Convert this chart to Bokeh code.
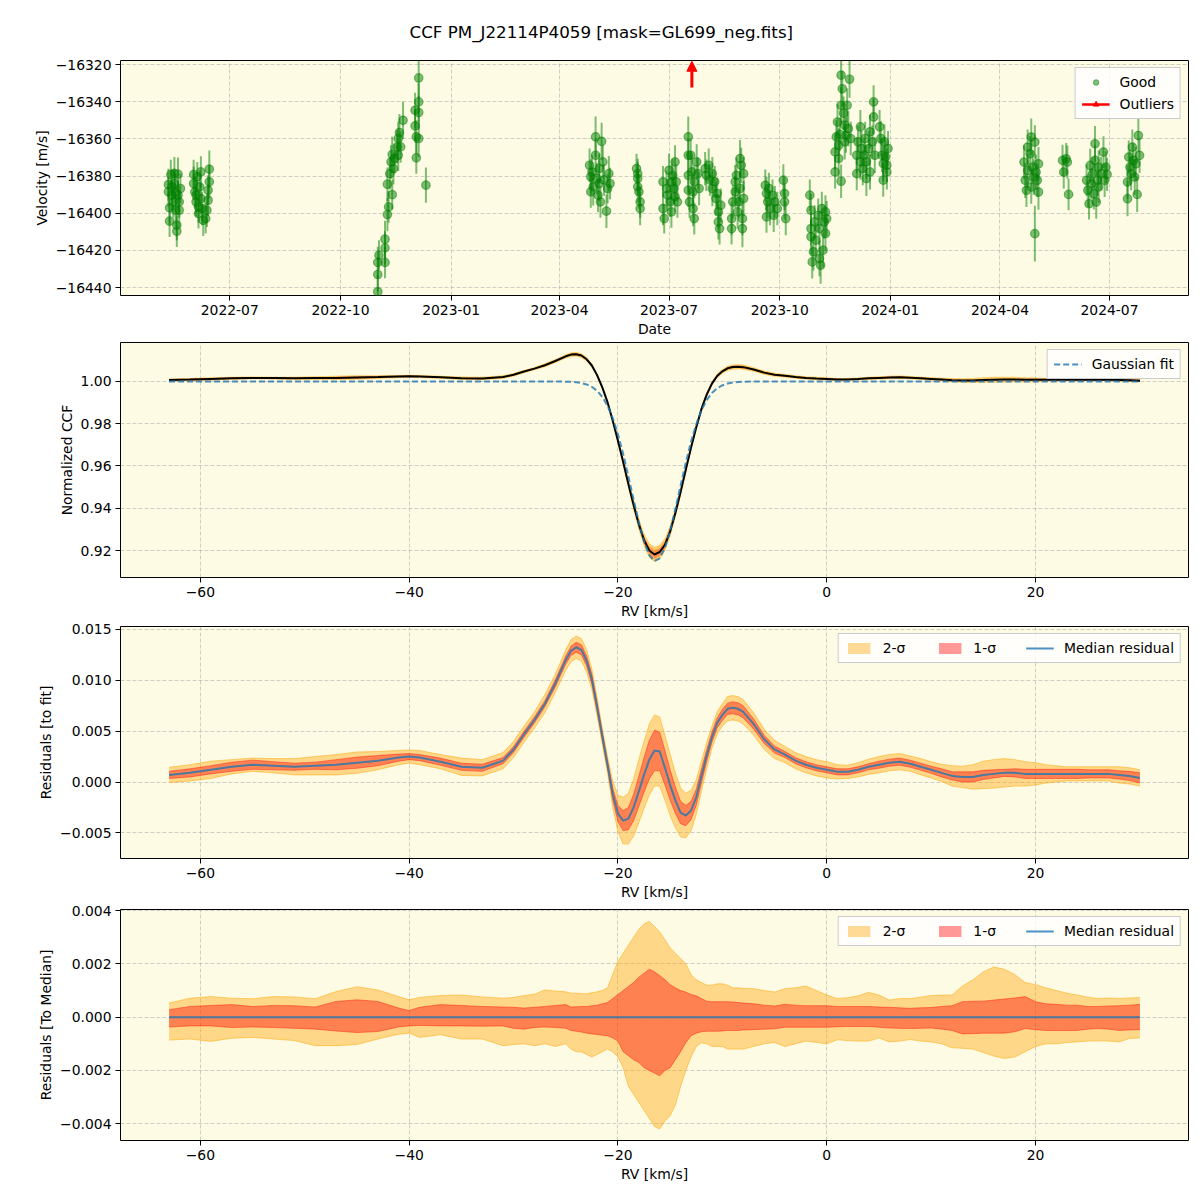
import numpy as np
import pandas as pd
from bokeh.plotting import figure
from bokeh.layouts import column
from bokeh.models import (Range1d, FixedTicker, DatetimeTickFormatter, CustomJSTickFormatter,
                          Legend, LegendItem, Arrow, NormalHead, ColumnDataSource)
from bokeh.embed import file_html
from bokeh.resources import INLINE

TITLE = "CCF PM_J22114P4059 [mask=GL699_neg.fits]"
date_ticks = ["2022-07", "2022-10", "2023-01", "2023-04", "2023-07", "2023-10", "2024-01", "2024-04", "2024-07"]
rv_ticks = [-60, -40, -20, 0, 20]

# ---------------- panel 1: RV time series ----------------
obs_date = [
    "2022-05-11", "2022-05-11", "2022-05-12", "2022-05-12", "2022-05-13", "2022-05-14", "2022-05-14", "2022-05-15", "2022-05-16", "2022-05-16",
    "2022-05-17", "2022-05-17", "2022-05-18", "2022-05-18", "2022-05-19", "2022-05-19", "2022-05-20", "2022-05-20", "2022-05-21",
    "2022-06-01", "2022-06-01", "2022-06-02", "2022-06-03", "2022-06-03", "2022-06-04", "2022-06-05", "2022-06-05", "2022-06-06", "2022-06-07",
    "2022-06-07", "2022-06-08", "2022-06-09", "2022-06-11", "2022-06-12", "2022-06-13", "2022-06-13", "2022-06-14", "2022-06-14",
    "2022-11-01", "2022-11-01", "2022-11-01", "2022-11-02", "2022-11-07", "2022-11-07", "2022-11-07", "2022-11-09", "2022-11-10", "2022-11-09",
    "2022-11-11", "2022-11-12", "2022-11-13", "2022-11-13", "2022-11-14", "2022-11-15", "2022-11-17", "2022-11-18", "2022-11-18", "2022-11-19",
    "2022-11-20", "2022-11-22",
    "2022-12-02", "2022-12-02", "2022-12-03", "2022-12-03", "2022-12-05", "2022-12-05", "2022-12-05", "2022-12-05", "2022-12-11",
    "2023-04-26", "2023-04-27", "2023-04-27", "2023-04-28", "2023-04-29", "2023-05-01", "2023-05-01", "2023-05-02", "2023-05-03", "2023-05-04",
    "2023-05-04", "2023-05-05", "2023-05-06", "2023-05-07", "2023-05-08", "2023-05-10", "2023-05-11", "2023-05-12", "2023-05-13",
    "2023-06-04", "2023-06-05", "2023-06-05", "2023-06-05", "2023-06-06", "2023-06-07", "2023-06-07",
    "2023-06-26", "2023-06-26", "2023-06-27", "2023-06-29", "2023-06-30", "2023-07-01", "2023-07-02", "2023-07-03", "2023-07-03", "2023-07-04",
    "2023-07-05", "2023-07-06", "2023-07-06", "2023-07-07", "2023-07-08",
    "2023-07-17", "2023-07-17", "2023-07-17", "2023-07-17", "2023-07-18", "2023-07-19", "2023-07-20", "2023-07-21", "2023-07-21", "2023-07-22",
    "2023-07-22", "2023-07-24", "2023-07-25", "2023-07-26",
    "2023-07-31", "2023-08-01", "2023-08-03", "2023-08-04", "2023-08-06", "2023-08-06", "2023-08-08", "2023-08-09", "2023-08-10", "2023-08-11",
    "2023-08-11", "2023-08-12", "2023-08-13",
    "2023-08-22", "2023-08-22", "2023-08-23", "2023-08-25", "2023-08-25", "2023-08-26", "2023-08-27", "2023-08-28", "2023-08-29", "2023-08-29",
    "2023-08-30", "2023-08-31", "2023-08-31", "2023-09-01", "2023-09-01",
    "2023-09-19", "2023-09-20", "2023-09-20", "2023-09-21", "2023-09-22", "2023-09-23", "2023-09-25", "2023-09-26", "2023-09-27", "2023-09-29",
    "2023-10-04", "2023-10-05", "2023-10-05", "2023-10-06",
    "2023-10-26", "2023-10-27", "2023-10-27", "2023-10-27", "2023-10-28", "2023-10-29", "2023-10-30", "2023-10-31", "2023-11-02", "2023-11-03",
    "2023-11-03", "2023-11-04", "2023-11-05", "2023-11-06", "2023-11-07", "2023-11-08", "2023-11-08", "2023-11-09",
    "2023-11-16", "2023-11-16", "2023-11-17", "2023-11-18", "2023-11-19", "2023-11-19", "2023-11-20", "2023-11-21", "2023-11-21", "2023-11-21",
    "2023-11-22", "2023-11-23", "2023-11-24", "2023-11-24", "2023-11-25", "2023-11-26", "2023-11-27", "2023-11-28", "2023-11-29",
    "2023-12-04", "2023-12-04", "2023-12-05", "2023-12-07", "2023-12-07", "2023-12-08", "2023-12-09", "2023-12-10", "2023-12-11", "2023-12-12",
    "2023-12-12", "2023-12-14", "2023-12-15", "2023-12-15", "2023-12-17", "2023-12-18", "2023-12-18", "2023-12-19",
    "2023-12-23", "2023-12-24", "2023-12-25", "2023-12-26", "2023-12-26", "2023-12-27", "2023-12-28", "2023-12-29", "2023-12-29", "2023-12-30",
    "2024-04-21", "2024-04-22", "2024-04-23", "2024-04-24", "2024-04-24", "2024-04-26", "2024-04-27", "2024-04-27", "2024-04-28", "2024-04-29",
    "2024-04-30", "2024-04-30", "2024-05-01", "2024-05-02", "2024-05-03", "2024-05-03",
    "2024-05-23", "2024-05-24", "2024-05-26", "2024-05-27", "2024-05-28",
    "2024-06-12", "2024-06-13", "2024-06-14", "2024-06-15", "2024-06-16", "2024-06-17", "2024-06-18", "2024-06-19", "2024-06-19", "2024-06-20",
    "2024-06-21", "2024-06-22", "2024-06-22", "2024-06-24", "2024-06-26", "2024-06-27", "2024-06-28", "2024-06-29",
    "2024-07-16", "2024-07-16", "2024-07-17", "2024-07-18", "2024-07-19", "2024-07-20", "2024-07-21", "2024-07-22", "2024-07-23", "2024-07-24",
    "2024-07-25", "2024-07-26",
]
obs_rv = [
    -16384.6, -16388.5, -16397.1, -16404.3, -16379.2, -16385.8, -16390.3, -16393.9, -16378.7, -16384.0,
    -16388.9, -16398.4, -16406.5, -16409.7, -16379.0, -16390.3, -16393.9, -16398.4, -16386.7,
    -16379.2, -16384.0, -16388.5, -16393.9, -16390.3, -16380.4, -16396.6, -16400.2, -16385.8, -16377.8,
    -16392.1, -16397.5, -16403.8, -16402.9, -16398.4, -16393.0, -16387.6, -16383.1, -16376.3,
    -16442.3, -16433.0, -16426.5, -16422.6, -16426.5, -16418.7, -16414.0, -16400.7, -16396.6, -16384.4,
    -16378.7, -16372.4, -16390.0, -16368.4, -16376.0, -16370.6, -16364.3, -16368.8, -16359.8, -16356.6,
    -16364.3, -16350.0,
    -16353.0, -16344.6, -16370.2, -16358.9, -16359.8, -16345.8, -16340.1, -16327.2, -16384.9,
    -16374.2, -16380.4, -16388.5, -16377.8, -16385.8, -16358.9, -16368.8, -16381.3, -16390.3, -16376.0,
    -16384.0, -16393.9, -16361.3, -16372.4, -16382.1, -16398.9, -16386.7, -16378.7, -16384.0,
    -16376.0, -16381.3, -16385.8, -16378.7, -16388.5, -16393.9, -16397.5,
    -16383.1, -16397.5, -16402.9, -16386.7, -16390.3, -16376.9, -16393.9, -16383.1, -16399.3, -16379.7,
    -16386.7, -16372.4, -16391.2, -16383.1, -16393.9,
    -16358.9, -16368.8, -16379.6, -16387.6, -16393.9, -16368.8, -16377.8, -16388.5, -16397.5, -16402.9,
    -16383.1, -16372.4, -16378.7, -16386.7,
    -16376.0, -16379.6, -16374.2, -16382.1, -16378.7, -16386.7, -16383.1, -16392.1, -16389.4, -16399.3,
    -16404.7, -16408.3, -16395.7,
    -16402.9, -16408.3, -16393.9, -16388.5, -16383.1, -16379.6, -16399.3, -16393.9, -16386.7, -16370.6,
    -16374.2, -16402.9, -16408.3, -16378.7, -16392.1,
    -16385.0, -16389.4, -16402.0, -16393.9, -16386.7, -16397.5, -16390.3, -16401.1, -16393.9, -16397.5,
    -16382.2, -16389.4, -16393.9, -16402.9,
    -16390.3, -16398.4, -16408.3, -16412.7, -16426.2, -16420.8, -16404.7, -16414.5, -16401.1, -16424.4,
    -16408.3, -16428.0, -16397.5, -16419.9, -16404.7, -16410.9, -16399.3, -16402.9,
    -16377.8, -16367.0, -16358.9, -16350.9, -16363.4, -16370.6, -16357.6, -16341.9, -16325.7, -16382.8,
    -16333.0, -16346.2, -16361.6, -16352.6, -16358.0, -16341.9, -16354.4, -16327.9, -16359.8,
    -16378.7, -16368.8, -16361.6, -16372.4, -16353.5, -16365.2, -16376.0, -16368.8, -16359.8, -16381.3,
    -16372.4, -16365.2, -16356.2, -16377.8, -16361.6, -16348.2, -16340.1, -16368.8,
    -16353.5, -16359.8, -16368.8, -16373.3, -16382.2, -16361.6, -16369.7, -16377.8, -16374.2, -16365.2,
    -16372.5, -16382.3, -16387.7, -16364.4, -16377.0, -16368.0, -16385.9, -16359.0, -16375.2, -16380.5,
    -16411.0, -16361.7, -16377.9, -16382.3, -16388.6, -16373.4,
    -16371.6, -16377.9, -16370.7, -16372.5, -16389.9,
    -16382.3, -16387.7, -16394.9, -16374.3, -16384.1, -16378.7, -16389.5, -16362.6, -16371.6, -16394.0,
    -16382.3, -16375.2, -16385.9, -16378.7, -16367.1, -16382.3, -16375.2, -16379.1,
    -16383.2, -16392.2, -16369.8, -16375.2, -16378.7, -16364.4, -16371.6, -16380.5, -16373.4, -16389.9,
    -16358.2, -16368.9,
]
obs_err = [
    8.5, 8.0, 9.0, 8.5, 8.0, 9.5, 8.0, 8.5, 9.0, 8.0, 10.0, 8.5, 8.0, 8.5, 9.0, 8.0, 8.5, 9.0, 8.0,
    8.0, 9.0, 8.5, 8.0, 9.5, 8.0, 8.5, 8.0, 9.0, 8.5, 8.0, 9.0, 8.5, 8.0, 9.0, 8.5, 8.0, 9.0, 10.0,
    9.0, 9.0, 8.5, 8.0, 8.5, 9.0, 10.0, 9.0, 8.5, 9.0, 8.5, 9.0, 8.0, 9.5, 8.5, 8.0, 9.0, 8.5, 9.0, 10.0,
    8.5, 10.0,
    9.0, 9.5, 8.5, 9.0, 10.0, 9.0, 10.0, 11.0, 9.5,
    9.0, 9.5, 8.5, 9.0, 10.0, 11.0, 9.0, 8.5, 9.0, 8.0, 9.5, 8.5, 10.0, 9.0, 8.5, 9.0, 8.0, 9.5, 8.5,
    8.0, 9.0, 8.5, 8.0, 9.0, 8.5, 9.0,
    8.5, 9.0, 8.0, 9.5, 8.5, 9.0, 8.0, 9.5, 8.5, 9.0, 8.5, 9.0, 8.0, 9.5, 8.5,
    11.0, 9.0, 9.5, 9.0, 8.5, 9.0, 8.5, 9.0, 9.5, 8.5, 9.0, 9.5, 8.5, 9.0,
    9.0, 8.5, 9.0, 8.5, 9.0, 9.5, 8.5, 9.0, 8.5, 9.0, 9.5, 8.5, 9.0,
    9.0, 8.5, 9.0, 8.5, 9.0, 9.5, 9.0, 8.5, 9.0, 10.0, 9.5, 9.0, 10.0, 9.0, 9.5,
    8.5, 9.0, 8.5, 9.0, 8.5, 9.0, 8.5, 9.0, 8.5, 9.0,
    8.5, 9.0, 9.5, 9.0,
    8.5, 9.0, 9.0, 9.5, 9.0, 10.0, 9.0, 9.5, 9.0, 9.5, 9.0, 10.0, 9.0, 9.5, 9.0, 9.5, 9.0, 9.5,
    9.0, 9.5, 9.0, 9.5, 9.0, 10.0, 9.0, 9.5, 10.0, 9.0, 9.5, 9.0, 9.5, 9.0, 9.5, 9.0, 9.5, 10.0, 9.0,
    9.0, 9.5, 9.0, 9.5, 9.0, 9.5, 9.0, 9.5, 9.0, 9.5, 9.0, 9.5, 9.0, 9.5, 9.0, 9.5, 9.0, 9.5,
    9.0, 9.5, 9.0, 9.5, 9.0, 9.5, 9.0, 9.5, 9.0, 9.5,
    9.0, 9.5, 9.0, 9.5, 9.0, 9.5, 9.0, 10.0, 9.0, 9.5, 15.0, 9.0, 9.5, 9.0, 9.5, 9.0,
    8.5, 9.0, 8.5, 9.0, 8.5,
    8.5, 9.0, 8.5, 9.0, 8.5, 9.0, 8.5, 9.5, 8.5, 9.0, 8.5, 9.0, 8.5, 9.0, 8.5, 9.0, 8.5, 9.0,
    9.0, 9.5, 9.0, 9.5, 9.0, 9.5, 9.0, 9.5, 9.0, 9.5, 9.0, 9.5,
]
outlier_date = ["2023-07-20"]

# ---------------- panels 2-4: CCF and residual profiles ----------------
rv = [-63, -61, -59, -57, -55, -53, -51, -49, -47, -45, -43, -41,
      -40, -39, -37, -35, -33, -31,
      -30, -29, -28, -27, -26, -25,
      -24.5, -24, -23.5, -23, -22.5, -22, -21.5, -21, -20.5, -20,
      -19.5, -19, -18.5, -18, -17.5, -17, -16.5, -16, -15.5, -15,
      -14.5, -14, -13.5, -13, -12.5, -12, -11.5, -11, -10.5, -10,
      -9.5, -9, -8.5, -8,
      -7, -6, -5, -4, -3, -2, -1, 0, 1, 2, 3, 4, 5, 6, 7, 8, 9, 10, 11, 12,
      13, 14, 15, 16, 17, 18, 19, 20, 21, 22, 23, 24, 25, 26, 27, 28, 29, 30]

gauss_fit = [1.0, 1.0, 1.0, 1.0, 1.0, 1.0, 1.0, 1.0, 1.0, 1.0, 1.0, 1.0,
             1.0, 1.0, 1.0, 1.0, 1.0, 1.0,
             1.0, 1.0, 1.0, 1.0, 1.0, 0.99992,
             0.99983, 0.99964, 0.99928, 0.99861, 0.99748, 0.99561, 0.99272, 0.9885, 0.98264, 0.9750,
             0.9657, 0.9551, 0.9440, 0.9333, 0.9242, 0.9178, 0.9150, 0.9163, 0.9213, 0.9294,
             0.9396, 0.9507, 0.9616, 0.9715, 0.9798, 0.9864, 0.9912, 0.9946, 0.99683, 0.9982,
             0.99906, 0.99952, 0.99977, 0.9999,
             0.99998, 1.0, 1.0, 1.0, 1.0, 1.0, 1.0, 1.0, 1.0, 1.0, 1.0, 1.0, 1.0, 1.0, 1.0, 1.0, 1.0, 1.0, 1.0, 1.0,
             1.0, 1.0, 1.0, 1.0, 1.0, 1.0, 1.0, 1.0, 1.0, 1.0, 1.0, 1.0, 1.0, 1.0, 1.0, 1.0, 1.0, 1.0]

res_med = [0.0007, 0.0009, 0.0012, 0.0015, 0.0017, 0.0016, 0.0015, 0.0016, 0.0017, 0.0019, 0.0021, 0.0024,
           0.0025, 0.0024, 0.0020, 0.0015, 0.0014, 0.0021,
           0.0032, 0.0047, 0.0061, 0.0077, 0.0097, 0.0120,
           0.0129, 0.01325, 0.0130, 0.0119, 0.0101, 0.0074, 0.0045, 0.0017, -0.0012, -0.0031,
           -0.0038, -0.0036, -0.0025, -0.0009, 0.0007, 0.0022, 0.0031, 0.0030, 0.0014, -0.0003,
           -0.0018, -0.0030, -0.0033, -0.0028, -0.0015, 0.0006, 0.0026, 0.0044, 0.0058, 0.0066,
           0.0072, 0.0073, 0.0072, 0.0069,
           0.0057, 0.0042, 0.0032, 0.0027, 0.0021, 0.0017, 0.0014, 0.0012, 0.0010, 0.0010, 0.0012, 0.0015,
           0.0017, 0.0019, 0.0020, 0.0018, 0.0015, 0.0012, 0.0009, 0.0006, 0.0005, 0.0005, 0.0007, 0.0008,
           0.0009, 0.0009, 0.0008, 0.0008, 0.0008, 0.0008, 0.0008, 0.0008, 0.0008, 0.0008, 0.0008, 0.0007,
           0.0006, 0.0004]

res_sig1 = [0.00035, 0.0004, 0.0004, 0.00045, 0.00045, 0.0004, 0.00035, 0.00035, 0.0005, 0.00055, 0.0005, 0.00035,
            0.0003, 0.0003, 0.00035, 0.00035, 0.00035, 0.0003,
            0.0003, 0.0003, 0.0003, 0.0003, 0.00035, 0.0004,
            0.00045, 0.0005, 0.0005, 0.0005, 0.0005, 0.00045, 0.0004, 0.0004, 0.0006, 0.0008,
            0.001, 0.0011, 0.0013, 0.0015, 0.0017, 0.0019, 0.002, 0.0019, 0.0017, 0.0015,
            0.0013, 0.0011, 0.001, 0.0009, 0.0008, 0.0007, 0.0006, 0.0005, 0.0005, 0.00055,
            0.00055, 0.0006, 0.0006, 0.0006,
            0.0005, 0.0004, 0.00035, 0.0003, 0.0003, 0.0003, 0.0003, 0.0003, 0.0003, 0.0003, 0.0003, 0.0003,
            0.00035, 0.00035, 0.00035, 0.00035, 0.00035, 0.00035, 0.0004, 0.0004, 0.0005, 0.0005, 0.00045, 0.0004,
            0.00035, 0.0004, 0.00045, 0.00045, 0.00045, 0.00045, 0.00045, 0.00045, 0.0004, 0.0004, 0.0004, 0.0004,
            0.00045, 0.0005]

res_sig2 = [0.00075, 0.0008, 0.00085, 0.0007, 0.00065, 0.0007, 0.0008, 0.0009, 0.001, 0.00105, 0.0009, 0.0007,
            0.00065, 0.0007, 0.0007, 0.00085, 0.0008, 0.0008,
            0.0008, 0.0008, 0.0008, 0.0009, 0.0009, 0.001,
            0.0011, 0.0011, 0.0011, 0.0011, 0.001, 0.0009, 0.0008, 0.0008, 0.0013, 0.0018,
            0.0023, 0.0025, 0.0028, 0.0031, 0.0033, 0.0035, 0.0035, 0.0034, 0.0032, 0.003,
            0.0027, 0.0024, 0.0022, 0.002, 0.0017, 0.0015, 0.0013, 0.0011, 0.0011, 0.0011,
            0.0012, 0.0012, 0.0012, 0.0012,
            0.0011, 0.001, 0.0009, 0.0008, 0.0008, 0.0008, 0.0008, 0.0008, 0.0007, 0.00065, 0.0007, 0.00075,
            0.0008, 0.0008, 0.0008, 0.00075, 0.0008, 0.0008, 0.00085, 0.001, 0.00105, 0.0012, 0.00135, 0.0014,
            0.0014, 0.0013, 0.0012, 0.0011, 0.0009, 0.0008, 0.0007, 0.0007, 0.0007, 0.0007, 0.0007, 0.0008,
            0.0008, 0.0008]

med_1hi = [0.00028, 0.0004, 0.00044, 0.00047, 0.0004, 0.00044, 0.00043, 0.00038, 0.00059, 0.00065, 0.00059, 0.00034,
           0.00025, 0.00037, 0.00047, 0.00044, 0.0004, 0.00038,
           0.00037, 0.00034, 0.00037, 0.0004, 0.00044, 0.00047,
           0.00038, 0.00039, 0.0004, 0.0004, 0.00043, 0.00045, 0.0005, 0.00055, 0.0007, 0.00085,
           0.001, 0.00115, 0.0013, 0.0015, 0.00165, 0.0018, 0.0017, 0.00156, 0.0014, 0.00122,
           0.0011, 0.001, 0.00094, 0.00085, 0.0008, 0.0007, 0.0006, 0.00058, 0.00058, 0.00058,
           0.00058, 0.00057, 0.00055, 0.00053,
           0.0005, 0.00045, 0.00042, 0.00048, 0.00045, 0.00043, 0.00043, 0.00043, 0.0004, 0.0004, 0.0004, 0.0004,
           0.00038, 0.00037, 0.00035, 0.00033, 0.00035, 0.00036, 0.0004, 0.00043, 0.00058, 0.0006, 0.0006, 0.00064,
           0.00068, 0.00072, 0.00077, 0.00058, 0.0005, 0.00048, 0.00045, 0.00045, 0.0004, 0.0004, 0.00042, 0.00043,
           0.00045, 0.00048]
med_1lo = [-0.00037, -0.00033, -0.00033, -0.00039, -0.00037, -0.00039, -0.00042, -0.00045, -0.00052, -0.00058, -0.00054, -0.00037,
           -0.00033, -0.00031, -0.00033, -0.00033, -0.00034, -0.00033,
           -0.00042, -0.00045, -0.00039, -0.00037, -0.00039, -0.00042,
           -0.0005, -0.00053, -0.00056, -0.0006, -0.00063, -0.00065, -0.00068, -0.0007, -0.00078, -0.0009,
           -0.0013, -0.00145, -0.0016, -0.0017, -0.0019, -0.002, -0.0021, -0.0022, -0.002, -0.0019,
           -0.0016, -0.0013, -0.00096, -0.0007, -0.0006, -0.00055, -0.00053, -0.00053, -0.00053, -0.00052,
           -0.0005, -0.0005, -0.0005, -0.00048,
           -0.00047, -0.00045, -0.00044, -0.00038, -0.00038, -0.00038, -0.00038, -0.00038, -0.00036, -0.00035, -0.00035, -0.00035,
           -0.00038, -0.00041, -0.00042, -0.00043, -0.00042, -0.00041, -0.00045, -0.0005, -0.00063, -0.00062, -0.0006, -0.0006,
           -0.0006, -0.00055, -0.00043, -0.00047, -0.0005, -0.0005, -0.0005, -0.0005, -0.00045, -0.00043, -0.00045, -0.0005,
           -0.00048, -0.00047]
med_2hi = [0.00053, 0.00071, 0.00077, 0.00071, 0.00069, 0.00077, 0.00076, 0.00069, 0.00096, 0.00114, 0.00102, 0.00077,
           0.00065, 0.00074, 0.00081, 0.00083, 0.00076, 0.00071,
           0.00074, 0.00081, 0.00086, 0.00102, 0.00098, 0.00095,
           0.0009, 0.0009, 0.00088, 0.00088, 0.00092, 0.00095, 0.001, 0.0011, 0.0016, 0.0021,
           0.0024, 0.0027, 0.003, 0.0033, 0.0035, 0.0036, 0.0034, 0.0032, 0.0029, 0.0026,
           0.0024, 0.0022, 0.002, 0.0016, 0.0014, 0.0013, 0.0012, 0.0012, 0.00125, 0.00125,
           0.0012, 0.0011, 0.0011, 0.00108,
           0.00107, 0.001, 0.00094, 0.00107, 0.0011, 0.00117, 0.001, 0.00083, 0.0007, 0.00073, 0.0008, 0.00093,
           0.00083, 0.00064, 0.0007, 0.0007, 0.00075, 0.00081, 0.00083, 0.00083, 0.00117, 0.0014, 0.0017, 0.00188,
           0.0018, 0.0016, 0.0013, 0.00122, 0.0011, 0.001, 0.0009, 0.00083, 0.00075, 0.0007, 0.00072, 0.0007,
           0.00072, 0.00074]
med_2lo = [-0.00086, -0.00082, -0.00091, -0.00079, -0.00076, -0.00082, -0.00088, -0.00107, -0.00107, -0.00103, -0.00082, -0.00064,
           -0.0006, -0.00076, -0.00066, -0.00082, -0.00082, -0.00107,
           -0.00103, -0.001, -0.00107, -0.001, -0.0011, -0.001,
           -0.0012, -0.0013, -0.0013, -0.0014, -0.0015, -0.0014, -0.0013, -0.0012, -0.0013, -0.0015,
           -0.0019, -0.0026, -0.0029, -0.0032, -0.0035, -0.0038, -0.0041, -0.0042, -0.0039, -0.0037,
           -0.0033, -0.0026, -0.002, -0.0015, -0.0011, -0.00096, -0.001, -0.0011, -0.0011, -0.0011,
           -0.0012, -0.0012, -0.0012, -0.0012,
           -0.0011, -0.001, -0.00095, -0.0011, -0.001, -0.0009, -0.00095, -0.001, -0.00085, -0.00088, -0.0009, -0.0009,
           -0.00078, -0.00093, -0.0009, -0.00084, -0.0009, -0.00093, -0.001, -0.00115, -0.00117, -0.0012, -0.00133, -0.00146,
           -0.00155, -0.0015, -0.0013, -0.0011, -0.001, -0.001, -0.00095, -0.00093, -0.0009, -0.00089, -0.0009, -0.00093,
           -0.0008, -0.00078]

# ---------------- styling ----------------
FONT = "DejaVu Sans"
BG = "#fdfbe3"
FW = 1068
LEFT = 120


def style(p, xlabel, ylabel):
    p.background_fill_color = BG
    p.border_fill_color = "white"
    p.outline_line_color = "black"
    p.outline_line_width = 1
    p.xaxis.axis_label = xlabel
    p.yaxis.axis_label = ylabel
    for ax in p.axis:
        ax.major_label_text_font = FONT
        ax.major_label_text_font_size = "13.9px"
        ax.major_label_text_color = "black"
        ax.axis_label_text_font = FONT
        ax.axis_label_text_font_size = "13.9px"
        ax.axis_label_text_font_style = "normal"
        ax.axis_label_text_color = "black"
        ax.major_tick_out = 5
        ax.major_tick_in = 0
        ax.minor_tick_out = 0
        ax.minor_tick_in = 0
        ax.axis_line_color = None
        ax.major_tick_line_color = "black"
        ax.major_label_standoff = 4
        ax.axis_label_standoff = 3
    for g in p.grid:
        g.grid_line_color = "#b0b0b0"
        g.grid_line_alpha = 0.6
        g.grid_line_dash = "4 2"


def style_legend(lg):
    lg.label_text_font = FONT
    lg.label_text_font_size = "13.9px"
    lg.label_text_color = "black"
    lg.border_line_color = "#cccccc"
    lg.border_line_alpha = 1.0
    lg.background_fill_color = "white"
    lg.background_fill_alpha = 0.8
    lg.glyph_width = 28
    lg.glyph_height = 14
    lg.label_standoff = 10
    lg.spacing = 6
    lg.padding = 6
    lg.margin = 7
    lg.label_height = 14


def fmt(digits):
    return CustomJSTickFormatter(code="return tick.toFixed(%d).replace('-', '\\u2212');" % digits)


# ---------------- panel 1 ----------------
dts = pd.to_datetime(obs_date)
rv_arr = np.array(obs_rv)
err_arr = np.array(obs_err)
src1 = ColumnDataSource(dict(t=dts, y=rv_arr, lo=rv_arr - err_arr, hi=rv_arr + err_arr))

x1_start = pd.Timestamp("2022-04-01 05:00")
x1_end = pd.Timestamp("2024-09-04 16:00")
Y1 = (-16444.3, -16317.8)

p1 = figure(x_axis_type="datetime", output_backend="svg", toolbar_location=None,
            frame_width=FW, frame_height=235, min_border_left=LEFT, min_border_right=4,
            min_border_top=60, min_border_bottom=40,
            x_range=Range1d(x1_start, x1_end), y_range=Range1d(*Y1))
p1.title.text = TITLE
p1.title.text_font = FONT
p1.title.text_font_size = "16.7px"
p1.title.text_font_style = "normal"
p1.title.text_color = "black"
p1.title.align = "left"
p1.title.offset = 289
p1.title.standoff = 38
style(p1, "Date", "Velocity [m/s]")
p1.xaxis.ticker = FixedTicker(ticks=[pd.Timestamp(d + "-01").value / 1e6 for d in date_ticks])
p1.xaxis.formatter = DatetimeTickFormatter(years="%Y-%m", months="%Y-%m", days="%Y-%m", hours="%Y-%m",
                                           hourmin="%Y-%m", minutes="%Y-%m", minsec="%Y-%m", seconds="%Y-%m",
                                           milliseconds="%Y-%m", microseconds="%Y-%m")
p1.yaxis.ticker = FixedTicker(ticks=[-16440, -16420, -16400, -16380, -16360, -16340, -16320])
p1.yaxis.formatter = fmt(0)

p1.segment(x0="t", y0="lo", x1="t", y1="hi", source=src1, line_color="green", line_alpha=0.5, line_width=2)
p1.scatter(x="t", y="y", source=src1, size=8.5, fill_color="green", line_color="green",
           fill_alpha=0.5, line_alpha=0.5, line_width=1.2)

# outlier marker: arrow pointing up at the top edge of the panel
t_out = pd.Timestamp(outlier_date[0]).value / 1e6
p1.add_layout(Arrow(end=NormalHead(size=10, fill_color="red", line_color="red", line_width=1),
                    x_start=t_out, y_start=Y1[1] - 14.5, x_end=t_out, y_end=Y1[1] - 0.4,
                    line_color="red", line_width=3))

# legend-only renderers placed far outside the visible range
hidden_x = [dts[0], dts[0]]
hidden_y = [Y1[0] - 500, Y1[0] - 400]
lg_good = p1.scatter(x=hidden_x, y=hidden_y, size=6, fill_color="green", line_color="green",
                     fill_alpha=0.5, line_alpha=0.5)
lg_out_line = p1.line(x=hidden_x, y=hidden_y, line_color="red", line_width=2.5)
lg_out_head = p1.scatter(x=hidden_x, y=hidden_y, marker="triangle", size=9, angle=np.pi / 2,
                         fill_color="red", line_color="red")
leg1 = Legend(items=[LegendItem(label="Good", renderers=[lg_good]),
                     LegendItem(label="Outliers", renderers=[lg_out_line, lg_out_head])],
              location="top_right")
style_legend(leg1)
p1.add_layout(leg1)

# ---------------- panel 2 ----------------
g = np.array(gauss_fit)
rm = np.array(res_med)
s1 = np.array(res_sig1)
s2 = np.array(res_sig2)
ccf = g + rm  # residuals are measured relative to the Gaussian fit
src2 = ColumnDataSource(dict(x=rv, g=g, ccf=ccf, lo2=ccf - s2, hi2=ccf + s2, lo1=ccf - s1, hi1=ccf + s1))

XR = (-67.65, 34.65)
p2 = figure(output_backend="svg", toolbar_location=None,
            frame_width=FW, frame_height=235, min_border_left=LEFT, min_border_right=4,
            min_border_top=3, min_border_bottom=40,
            x_range=Range1d(*XR), y_range=Range1d(0.90722, 1.01846))
style(p2, "RV [km/s]", "Normalized CCF")
p2.xaxis.ticker = FixedTicker(ticks=rv_ticks)
p2.xaxis.formatter = fmt(0)
p2.yaxis.ticker = FixedTicker(ticks=[0.92, 0.94, 0.96, 0.98, 1.00])
p2.yaxis.formatter = fmt(2)
p2.varea(x="x", y1="lo2", y2="hi2", source=src2, fill_color="orange", fill_alpha=0.55)
p2.varea(x="x", y1="lo1", y2="hi1", source=src2, fill_color="#ff5020", fill_alpha=0.45)
p2.line(x="x", y="ccf", source=src2, line_color="black", line_width=2)
gl = p2.line(x="x", y="g", source=src2, line_color="#1f77b4", line_alpha=0.8, line_width=2, line_dash="6 3")
leg2 = Legend(items=[LegendItem(label="Gaussian fit", renderers=[gl])], location="top_right")
style_legend(leg2)
p2.add_layout(leg2)

# ---------------- panel 3 ----------------
src3 = ColumnDataSource(dict(x=rv, m=rm, lo2=rm - s2, hi2=rm + s2, lo1=rm - s1, hi1=rm + s1))
p3 = figure(output_backend="svg", toolbar_location=None,
            frame_width=FW, frame_height=232, min_border_left=LEFT, min_border_right=4,
            min_border_top=5, min_border_bottom=40,
            x_range=Range1d(*XR), y_range=Range1d(-0.00752, 0.01529))
style(p3, "RV [km/s]", "Residuals [to fit]")
p3.xaxis.ticker = FixedTicker(ticks=rv_ticks)
p3.xaxis.formatter = fmt(0)
p3.yaxis.ticker = FixedTicker(ticks=[-0.005, 0.0, 0.005, 0.010, 0.015])
p3.yaxis.formatter = fmt(3)


def bands(p, src):
    r2 = p.varea(x="x", y1="lo2", y2="hi2", source=src, fill_color="orange", fill_alpha=0.4)
    p.line(x="x", y="lo2", source=src, line_color="orange", line_alpha=0.5, line_width=1)
    p.line(x="x", y="hi2", source=src, line_color="orange", line_alpha=0.5, line_width=1)
    r1 = p.varea(x="x", y1="lo1", y2="hi1", source=src, fill_color="red", fill_alpha=0.4)
    p.line(x="x", y="lo1", source=src, line_color="red", line_alpha=0.4, line_width=1)
    p.line(x="x", y="hi1", source=src, line_color="red", line_alpha=0.4, line_width=1)
    rl = p.line(x="x", y="m", source=src, line_color="#1f77b4", line_alpha=0.8, line_width=2)
    lg = Legend(items=[LegendItem(label="2-σ", renderers=[r2]),
                       LegendItem(label="1-σ", renderers=[r1]),
                       LegendItem(label="Median residual", renderers=[rl])],
                location="top_right", orientation="horizontal")
    style_legend(lg)
    lg.spacing = 30
    p.add_layout(lg)


bands(p3, src3)

# ---------------- panel 4 ----------------
src4 = ColumnDataSource(dict(x=rv, m=rm - rm, lo2=med_2lo, hi2=med_2hi, lo1=med_1lo, hi1=med_1hi))
p4 = figure(output_backend="svg", toolbar_location=None,
            frame_width=FW, frame_height=231, min_border_left=LEFT, min_border_right=4,
            min_border_top=7, min_border_bottom=44,
            x_range=Range1d(*XR), y_range=Range1d(-0.00463, 0.00404))
style(p4, "RV [km/s]", "Residuals [To Median]")
p4.xaxis.ticker = FixedTicker(ticks=rv_ticks)
p4.xaxis.formatter = fmt(0)
p4.yaxis.ticker = FixedTicker(ticks=[-0.004, -0.002, 0.0, 0.002, 0.004])
p4.yaxis.formatter = fmt(3)
bands(p4, src4)

layout = column(p1, p2, p3, p4, spacing=0)
open("out.html", "w").write(file_html(layout, INLINE, title=TITLE))
